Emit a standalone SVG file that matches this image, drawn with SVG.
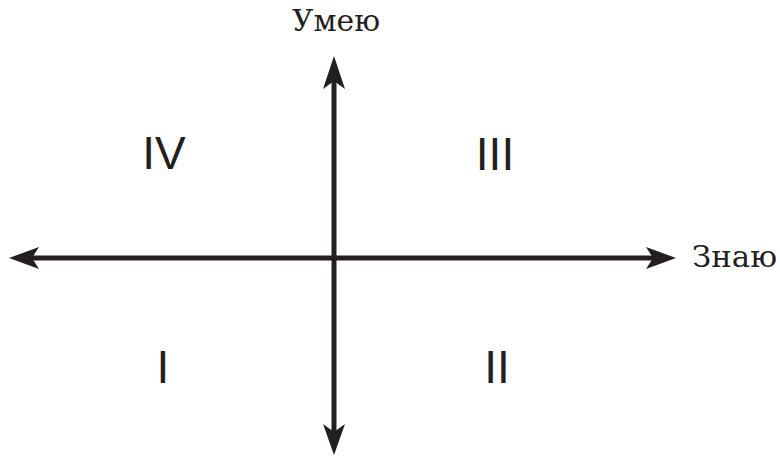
<svg xmlns="http://www.w3.org/2000/svg" width="780" height="457" viewBox="0 0 780 457">
<style>
.ax{stroke:#231f20;stroke-width:5;fill:none}
.hd{fill:#231f20}
.lab{font-family:"DejaVu Serif","Liberation Serif",serif;font-size:30px;fill:#231f20}
.num{font-family:"Liberation Sans",Arial,sans-serif;font-size:46px;fill:#231f20;text-anchor:middle}
</style>
<rect width="780" height="457" fill="#fff"/>
<g id="connectors">
<line class="ax" x1="334" y1="78" x2="334" y2="434"/>
<path class="hd" d="M334,56 L345,89 L334,81 L323,89 Z"/>
<path class="hd" d="M334,455 L345,424 L334,432 L323,424 Z"/>
<line class="ax" x1="30" y1="258" x2="656" y2="258"/>
<path class="hd" d="M9,258 L39,247 L32,258 L39,269 Z"/>
<path class="hd" d="M676,258 L646,247 L653,258 L646,269 Z"/>
</g>
<g id="label-umeyu"><text class="lab" x="336" y="31" text-anchor="middle" textLength="88" lengthAdjust="spacingAndGlyphs">Умею</text></g>
<g id="label-znayu"><text class="lab" x="692" y="267" textLength="85" lengthAdjust="spacingAndGlyphs">Знаю</text></g>
<g id="q4"><text class="num" x="164" y="169">IV</text></g>
<g id="q3"><text class="num" x="495" y="170">III</text></g>
<g id="q1"><text class="num" x="163" y="383">I</text></g>
<g id="q2"><text class="num" x="497" y="383">II</text></g>
</svg>
